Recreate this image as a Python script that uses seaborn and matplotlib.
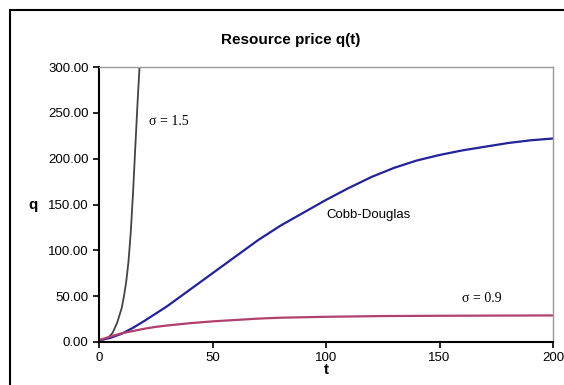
import numpy as np
import pandas as pd
import matplotlib
matplotlib.use("Agg")
import matplotlib.pyplot as plt
import seaborn as sns
from matplotlib.patches import Rectangle

# Data
t_cd = [0, 5, 10, 15, 20, 25, 30, 40, 50, 60, 70, 80, 90, 100, 110, 120, 130, 140, 150, 160, 170, 180, 190, 200]
q_cd = [2, 4.5, 9, 15.5, 23, 31, 39, 57, 75, 93, 111, 127, 141, 155, 168, 180, 190, 198, 204, 209, 213, 217, 220, 222]

t_09 = [0, 5, 10, 15, 20, 25, 30, 40, 50, 60, 70, 80, 100, 125, 150, 175, 200]
q_09 = [2, 6, 9.5, 12, 14.5, 16.5, 18, 20.5, 22.5, 24, 25.5, 26.5, 27.5, 28.3, 28.6, 28.8, 29]

t_15 = [0, 2, 4, 6, 8, 10, 11, 12, 13, 14, 15, 16, 17, 17.9]
q_15 = [2, 2.5, 4.5, 10, 21, 37, 50, 66, 88, 120, 163, 213, 262, 302]

y_ticks = [0, 50, 100, 150, 200, 250, 300]
x_ticks = [0, 50, 100, 150, 200]

df = pd.concat([
    pd.DataFrame({"t": t_15, "q": q_15, "series": "s15"}),
    pd.DataFrame({"t": t_cd, "q": q_cd, "series": "cd"}),
    pd.DataFrame({"t": t_09, "q": q_09, "series": "s09"}),
])

sns.set_style("ticks")
plt.rcParams['font.family'] = ['Liberation Sans', 'DejaVu Sans']
plt.rcParams['text.color'] = 'black'
plt.rcParams['xtick.labelcolor'] = 'black'
plt.rcParams['ytick.labelcolor'] = 'black'
plt.rcParams['axes.labelcolor'] = 'black'

fig = plt.figure(figsize=(5.64, 3.85), dpi=100)
ax = fig.add_axes([99/564, 1-342/385, (553-99)/564, (342-67)/385])

palette = {"s15": "#444444", "cd": "#22229a", "s09": "#b0406e"}
sns.lineplot(data=df, x="t", y="q", hue="series", palette=palette, ax=ax,
             linewidth=1.6, legend=False, sort=False)
ax.lines[0].set_linewidth(1.3)

ax.set_xlim(0, 200)
ax.set_ylim(0, 300)
ax.set_xticks(x_ticks)
ax.set_yticks(y_ticks)
ax.set_yticklabels([f"{v:.2f}" for v in y_ticks])
ax.tick_params(axis="both", labelsize=9.5, length=4, width=1.2, direction="out",
               color="black", labelcolor="black")
ax.set_xlabel("t", fontsize=11, fontweight="bold", labelpad=-1, color="black")
ax.set_ylabel("")
fig.text(33/564, 1-205/385, "q", fontsize=11, fontweight="bold", ha="center", va="center", color="black")

for s in ["left", "bottom"]:
    ax.spines[s].set_color("black")
    ax.spines[s].set_linewidth(1.5)
for s in ["top", "right"]:
    ax.spines[s].set_color("#999999")
    ax.spines[s].set_linewidth(1.0)

fig.text(291/564, 1-40/385, "Resource price q(t)", fontsize=11, fontweight="bold",
         ha="center", va="center", color="black")

ax.text(22, 240, "σ = 1.5", fontsize=10, family=["Liberation Serif", "DejaVu Serif"],
        ha="left", va="center", color="black")
ax.text(100, 138, "Cobb-Douglas", fontsize=9.5, ha="left", va="center", color="black")
ax.text(160, 48, "σ = 0.9", fontsize=10, family=["Liberation Serif", "DejaVu Serif"],
        ha="left", va="center", color="black")

fig.patches.append(Rectangle((10/564, -0.2), 1.2, 1 - 10/385 + 0.2, transform=fig.transFigure,
                             fill=False, edgecolor="black", linewidth=1.5))

fig.savefig("out.png", dpi=100)
